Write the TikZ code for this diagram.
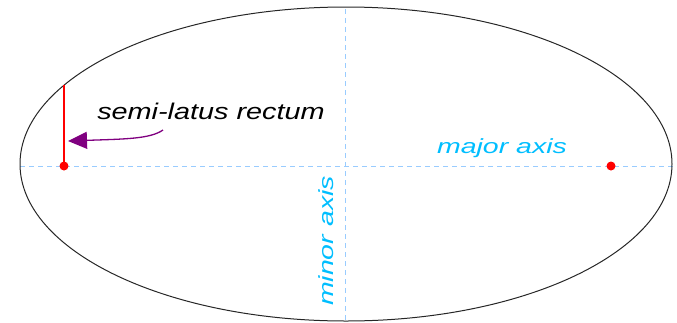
\documentclass[tikz,border=0pt]{standalone}
\usepackage{fontspec}
\setmainfont{Liberation Sans}
\usepackage{graphicx}
\usetikzlibrary{arrows.meta}
\definecolor{axisblue}{RGB}{153,204,255}
\definecolor{labelcyan}{RGB}{0,190,255}
\definecolor{arrowpurple}{RGB}{128,0,128}
\tikzset{
  axisline/.style={draw=axisblue, line width=1pt, dash pattern=on 5pt off 4pt},
  focusdot/.style={circle, fill=red, draw=none, minimum size=9pt, inner sep=0pt},
  latusline/.style={draw=red, line width=1.3pt},
  pointer/.style={draw=arrowpurple, line width=1.3pt, -{Triangle[length=19pt,width=17pt]}},
  blacklabel/.style={inner sep=0pt, anchor=base, font=\fontsize{22.7}{27}\selectfont\itshape},
  axislabel/.style={inner sep=0pt, anchor=base, text=labelcyan, font=\fontsize{20.5}{24}\selectfont\itshape},
}
\begin{document}
\begin{tikzpicture}[x=1pt,y=-1pt]
\useasboundingbox (0,0) rectangle (677,322);
% axes
\coordinate (hl) at (20,166);
\coordinate (hr) at (677,166);
\coordinate (vt) at (345,9);
\coordinate (vb) at (345,322);
\draw[axisline] (hl) -- (hr);
\draw[axisline] (vt) -- (vb);
% ellipse
\draw[black!85, line width=1pt] (346,164) ellipse [x radius=326, y radius=157];
% semi-latus rectum
\node[focusdot] (f1) at (64,166) {};
\node[focusdot] (f2) at (611,166) {};
\coordinate (lr) at (64,85.2);
\draw[latusline] (f1.center) -- (lr);
% pointer
\coordinate (astart) at (163,130);
\coordinate (atip) at (68,141);
\draw[pointer] (astart) .. controls (150,139) and (125,139) .. (atip);
% labels
\node[blacklabel] (slr) at (211,119) {\scalebox{1.27}[1]{semi-latus rectum}};
\node[axislabel] (maj) at (502,153.3) {\scalebox{1.39}[1]{major axis}};
\node[axislabel, rotate=90] (min) at (333,241) {\scalebox{1.39}[1]{minor axis}};
\end{tikzpicture}
\end{document}
